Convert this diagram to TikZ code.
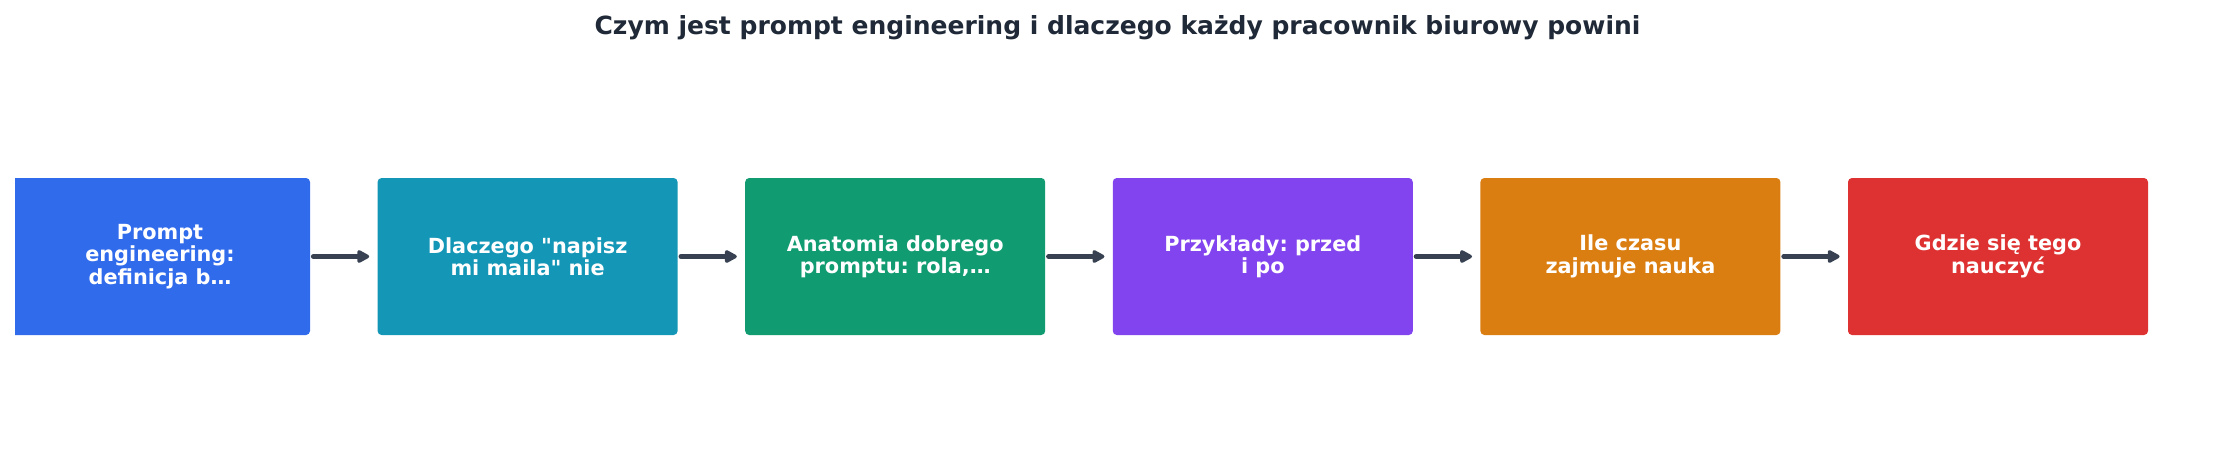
\documentclass[tikz,border=0pt]{standalone}
\usepackage{fontspec}
\setmainfont{DejaVu Sans}
\newfontfamily\djvfont{DejaVu Sans}
\frenchspacing
\usetikzlibrary{arrows.meta}
\definecolor{cblue}{RGB}{48,107,236}
\definecolor{ccyan}{RGB}{20,150,182}
\definecolor{cgreen}{RGB}{17,155,112}
\definecolor{cviolet}{RGB}{130,68,238}
\definecolor{camber}{RGB}{219,126,18}
\definecolor{cred}{RGB}{222,49,49}
\definecolor{ctitle}{RGB}{31,41,55}
\definecolor{carrow}{RGB}{55,65,81}
\tikzset{
  stepbox/.style={rectangle, rounded corners=2pt, minimum width=150pt, minimum height=78.5pt,
    inner sep=0pt, align=center, text=white,
    font=\djvfont\fontsize{10.4}{11.2}\selectfont\bfseries},
  flowarrow/.style={draw=carrow, line width=2.5pt, line cap=round,
    -{Triangle[length=7pt, width=7pt, round]}, shorten <=1.5pt, shorten >=4pt},
}
\begin{document}
\begin{tikzpicture}[x=0.5pt, y=-0.5pt]
\useasboundingbox (0,0) rectangle (2235,462);
\node[anchor=base, text=ctitle, font=\djvfont\fontsize{12.5}{14}\selectfont\bfseries] (title) at (1117.5,34)
  {Czym jest prompt engineering i dlaczego każdy pracownik biurowy powini};
\begin{scope}
\clip (15,0) rectangle (2235,462);
\node[stepbox, fill=cblue] (b1) at (160,256.5) {Prompt\\engineering:\\definicja b…};
\end{scope}
\node[stepbox, fill=ccyan] (b2) at (527.6,256.5) {Dlaczego "napisz\\mi maila" nie};
\node[stepbox, fill=cgreen] (b3) at (895.2,256.5) {Anatomia dobrego\\promptu: rola,…};
\node[stepbox, fill=cviolet] (b4) at (1262.8,256.5) {Przykłady: przed\\i po};
\node[stepbox, fill=camber] (b5) at (1630.4,256.5) {Ile czasu\\zajmuje nauka};
\node[stepbox, fill=cred] (b6) at (1998,256.5) {Gdzie się tego\\nauczyć};
\draw[flowarrow] (b1.east) -- (b2.west);
\draw[flowarrow] (b2.east) -- (b3.west);
\draw[flowarrow] (b3.east) -- (b4.west);
\draw[flowarrow] (b4.east) -- (b5.west);
\draw[flowarrow] (b5.east) -- (b6.west);
\end{tikzpicture}
\end{document}
